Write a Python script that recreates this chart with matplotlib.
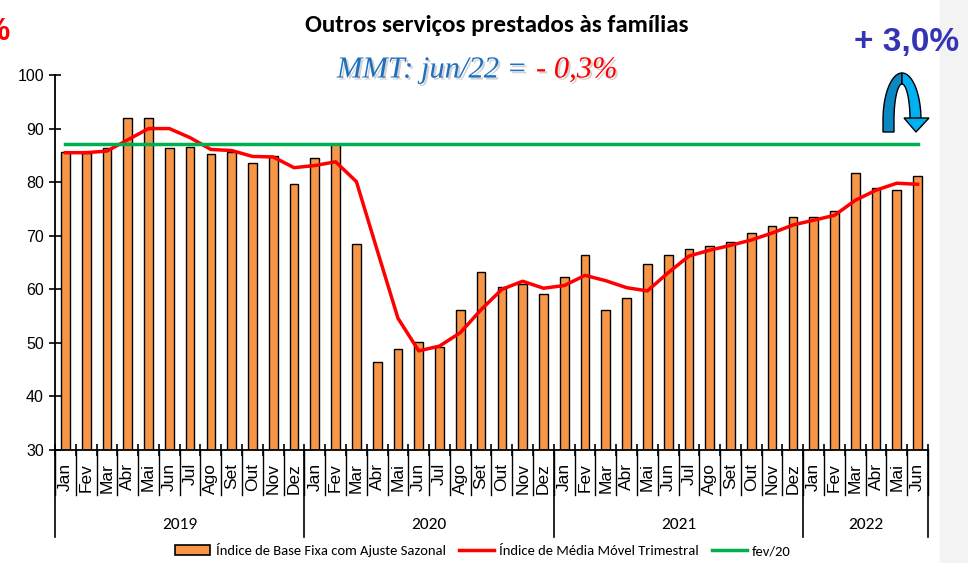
import matplotlib
matplotlib.use('Agg')
import matplotlib.pyplot as plt
import matplotlib.patheffects as pe
from matplotlib.patches import Polygon, Rectangle, Patch
from matplotlib.lines import Line2D
import numpy as np

plt.rcParams['font.family'] = ['Liberation Sans', 'DejaVu Sans']
ESTREITA = ['Carlito', 'Lato', 'DejaVu Sans']

meses = ['Jan', 'Fev', 'Mar', 'Abr', 'Mai', 'Jun', 'Jul', 'Ago', 'Set', 'Out', 'Nov', 'Dez']
anos = ['2019', '2020', '2021', '2022']
meses_por_ano = [12, 12, 12, 6]

# indice de base fixa com ajuste sazonal (barras)
indice_base_fixa = [85.7, 85.4, 86.3, 91.9, 91.9, 86.3, 86.6, 85.3, 85.7, 83.5, 84.9, 79.7,
                    84.6, 87.1, 68.5, 46.4, 48.9, 50.2, 49.2, 56.2, 63.2, 60.5, 60.9, 59.1,
                    62.2, 66.4, 56.2, 58.3, 64.7, 66.4, 67.5, 68.1, 68.9, 70.6, 71.9, 73.4,
                    73.4, 74.7, 81.8, 79.0, 78.6, 81.1]
# media movel trimestral (linha vermelha)
media_movel = [85.5, 85.5, 85.8, 87.9, 90.0, 90.0, 88.3, 86.1, 85.9, 84.8, 84.7, 82.7,
               83.1, 83.8, 80.1, 67.3, 54.6, 48.5, 49.4, 51.9, 56.2, 60.0, 61.5, 60.2,
               60.7, 62.6, 61.6, 60.3, 59.7, 63.1, 66.2, 67.3, 68.2, 69.2, 70.5, 72.0,
               72.9, 73.8, 76.6, 78.5, 79.8, 79.6]
fev20 = 87.2

W, H = 968, 563


def px(x, y):
    # pixel -> fracao da figura
    return x / W, 1 - y / H


fig = plt.figure(figsize=(W / 100, H / 100), dpi=100)
fig.add_artist(Rectangle(px(940, 563), 28 / W, 1, transform=fig.transFigure,
                         color='#F3F3F3', zorder=-10))

ax = fig.add_axes([55 / W, 1 - 450 / H, 873 / W, 375 / H])
x = np.arange(len(indice_base_fixa))
ax.bar(x, indice_base_fixa, width=0.42, color='#F79646', edgecolor='black',
       linewidth=1.0, zorder=2)
ax.plot(x, media_movel, color='#FF0000', lw=2.5, zorder=3)
ax.plot([x[0], x[-1]], [fev20, fev20], color='#00B050', lw=2.5, zorder=4)

ax.set_xlim(-0.5, len(x) - 0.5)
ax.set_ylim(30, 100)
ax.set_yticks(range(30, 101, 10))
ax.tick_params(axis='y', direction='inout', length=8, width=1.2, labelsize=11.5, pad=4)
ax.set_xticks(np.arange(-0.5, len(x), 1))
ax.set_xticklabels([])
ax.tick_params(axis='x', direction='inout', length=8, width=1.2)
for s in ['top', 'right']:
    ax.spines[s].set_visible(False)
for s in ['left', 'bottom']:
    ax.spines[s].set_linewidth(1.3)

trans = ax.get_xaxis_transform()
rotulos = []
for n in meses_por_ano:
    rotulos += meses[:n]
for i, r in enumerate(rotulos):
    ax.text(i, -0.035, r, transform=trans, rotation=90, ha='center', va='top',
            fontsize=12.5)
for b in np.arange(-0.5, len(x), 1):
    ax.plot([b, b], [0, -0.12], transform=trans, clip_on=False, color='black', lw=1)
inicio = -0.5
for ano, n in zip(anos, meses_por_ano):
    ax.plot([inicio, inicio], [0, -0.232], transform=trans, clip_on=False,
            color='black', lw=1.2)
    ax.text(inicio + n / 2, -0.2, ano, transform=trans, ha='center', va='center',
            fontsize=12.5, family=ESTREITA)
    inicio += n
ax.plot([inicio, inicio], [0, -0.232], transform=trans, clip_on=False, color='black', lw=1.2)

# titulos
fig.text(*px(497, 25), 'Outros serviços prestados às famílias', ha='center', va='center',
         fontsize=18, fontweight='bold', family=ESTREITA)
sombra = [pe.withSimplePatchShadow(offset=(1.5, -1.5), shadow_rgbFace='gray', alpha=0.35)]
fig.text(*px(527, 70), 'MMT: jun/22 =', ha='right', va='center', fontsize=22,
         style='italic', color='#1F6FC0', family=['Liberation Serif', 'DejaVu Serif'],
         path_effects=sombra)
fig.text(*px(536, 70), '- 0,3%', ha='left', va='center', fontsize=22,
         style='italic', color='#FF0000', family=['Liberation Serif', 'DejaVu Serif'],
         path_effects=sombra)
fig.text(*px(907, 42), '+ 3,0%', ha='center', va='center', fontsize=24,
         fontweight='bold', color='#3434B4')
fig.text(*px(9, 32), '%', ha='right', va='center', fontsize=22,
         fontweight='bold', color='#FF0000')

# seta curva
cx, cy = 902, 120
t1 = np.linspace(np.pi, np.pi / 2, 30)
t2 = np.linspace(np.pi / 2, 0, 30)
esq = [(cx - 19, 132)] + [(cx + 19 * np.cos(t), cy - 47 * np.sin(t)) for t in t1] + \
      [(cx + 8 * np.cos(t), cy - 36 * np.sin(t)) for t in t1[::-1]] + [(cx - 8, 132)]
dir_ = [(cx + 19 * np.cos(t), cy - 47 * np.sin(t)) for t in t2] + \
       [(cx + 8 * np.cos(t), cy - 36 * np.sin(t)) for t in t2[::-1]]
ponta = [(904, 118), (929, 118), (916, 132)]
for pts, cor in [(esq, '#0B88C2'), (dir_, '#00B0F0'), (ponta, '#00B0F0')]:
    fig.add_artist(Polygon([px(a, b) for a, b in pts], closed=True,
                           transform=fig.transFigure, facecolor=cor,
                           edgecolor='black', lw=1))

handles = [Patch(facecolor='#F79646', edgecolor='black', lw=1.2),
           Line2D([], [], color='#FF0000', lw=2.5),
           Line2D([], [], color='#00B050', lw=2.5)]
labels = ['Índice de Base Fixa com Ajuste Sazonal', 'Índice de Média Móvel Trimestral', 'fev/20']
fig.legend(handles, labels, loc='center', bbox_to_anchor=px(483, 550), ncol=3,
           frameon=False, handlelength=2.4, handletextpad=0.35, columnspacing=0.9,
           borderpad=0, prop={'family': ESTREITA, 'size': 10.5})

plt.savefig('out.png', dpi=100)
